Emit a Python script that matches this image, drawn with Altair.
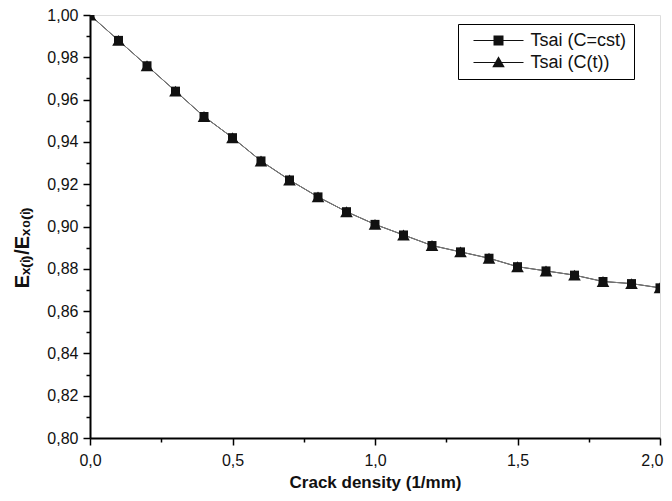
import altair as alt
import pandas as pd

# ---- data ----
density = [0.0, 0.1, 0.2, 0.3, 0.4, 0.5, 0.6, 0.7, 0.8, 0.9, 1.0,
           1.1, 1.2, 1.3, 1.4, 1.5, 1.6, 1.7, 1.8, 1.9, 2.0]
tsai_cst = [1.000, 0.988, 0.976, 0.964, 0.952, 0.942, 0.931, 0.922, 0.914, 0.907, 0.901,
            0.896, 0.891, 0.888, 0.885, 0.881, 0.879, 0.877, 0.874, 0.873, 0.871]
tsai_ct = [1.000, 0.988, 0.976, 0.964, 0.952, 0.942, 0.931, 0.922, 0.914, 0.907, 0.901,
           0.896, 0.891, 0.888, 0.885, 0.881, 0.879, 0.877, 0.874, 0.873, 0.871]
series_names = ["Tsai (C=cst)", "Tsai (C(t))"]
x_tick_values = [0.0, 0.25, 0.5, 0.75, 1.0, 1.25, 1.5, 1.75, 2.0]
y_tick_values = [round(0.80 + 0.01 * i, 2) for i in range(21)]

df = pd.DataFrame({
    "x": density + density,
    "y": tsai_cst + tsai_ct,
    "series": [series_names[0]] * len(density) + [series_names[1]] * len(density),
})

FONT = "Liberation Sans"

x_major = "abs(datum.value*2 - round(datum.value*2)) < 0.0001"
y_major = "abs(datum.value*50 - round(datum.value*50)) < 0.0001"
x_last = "datum.value > 1.99"

x_axis = alt.Axis(
    values=x_tick_values,
    labelExpr=f"{x_major} ? replace(format(datum.value, '.1f'), '.', ',') : ''",
    tickSize={"condition": {"test": x_major, "value": 7}, "value": 4},
    labelAlign={"condition": {"test": x_last, "value": "right"}, "value": "center"},
    labelOffset={"condition": {"test": x_last, "value": 3}, "value": 0},
    title="Crack density (1/mm)",
    grid=False, domainColor="black", domainWidth=2, tickColor="black", tickWidth=1.5,
    labelFont=FONT, labelFontSize=16, labelColor="#111111", labelPadding=7,
    labelFlush=False, labelOverlap=False,
    titleFont=FONT, titleFontSize=17, titleFontWeight="bold", titleColor="#111111",
    titlePadding=6,
)
y_axis = alt.Axis(
    values=y_tick_values,
    labelExpr=f"{y_major} ? replace(format(datum.value, '.2f'), '.', ',') : ''",
    tickSize={"condition": {"test": y_major, "value": 7}, "value": 4},
    title="Eₓ₍ᵢ₎/Eₓ₀₍ᵢ₎",
    grid=False, domainColor="black", domainWidth=2, tickColor="black", tickWidth=1.5,
    labelFont=FONT, labelFontSize=16, labelColor="#111111", labelPadding=5,
    labelFlush=False, labelOverlap=False,
    titleFont=FONT, titleFontSize=20, titleFontWeight="bold", titleColor="#111111",
    titleX=-68, titleY=232, titleAlign="center", titleBaseline="middle", titleAngle=270,
)

xscale = alt.Scale(domain=[0, 2], nice=False)
yscale = alt.Scale(domain=[0.8, 1.0], nice=False, zero=False)

base = alt.Chart(df).encode(
    x=alt.X("x:Q", scale=xscale, axis=x_axis),
    y=alt.Y("y:Q", scale=yscale, axis=y_axis),
)

lines = base.mark_line(strokeWidth=1, clip=True).encode(
    color=alt.Color("series:N",
                    scale=alt.Scale(domain=series_names, range=["#000000", "#808080"]),
                    legend=None),
    detail="series:N",
)

points = base.mark_point(filled=True, opacity=1, clip=True, color="#111111").encode(
    shape=alt.Shape("series:N",
                    scale=alt.Scale(domain=series_names, range=["square", "triangle-up"]),
                    legend=None),
    size=alt.Size("series:N",
                  scale=alt.Scale(domain=series_names, range=[81, 160]),
                  legend=None),
)

# legend symbols: a thin bar (the line) plus the marker, all filled
sq_path = "M-5,-0.1L5,-0.1L5,0.1L-5,0.1ZM-1,-1L1,-1L1,1L-1,1Z"
tri_path = "M-5,-0.1L5,-0.1L5,0.1L-5,0.1ZM0,-1.25L1.25,0.95L-1.25,0.95Z"

legend_layer = base.mark_point(
    filled=True, size=100, opacity=1, fill="#111111", stroke="#111111", strokeWidth=0.3
).encode(
    shape=alt.Shape("series:N",
                    scale=alt.Scale(domain=series_names, range=[sq_path, tri_path]),
                    legend=alt.Legend(
                        title=None, orient="none", legendX=368, legendY=9,
                        strokeColor="black", fillColor="white", padding=7.5,
                        symbolOffset=24, labelOffset=23, rowPadding=4,
                        symbolSize=100, symbolFillColor="#111111",
                        symbolStrokeColor="#111111", symbolStrokeWidth=0.3,
                        labelFont=FONT, labelFontSize=18, labelColor="#111111",
                        labelLimit=400,
                    )),
).transform_filter("false")

chart = alt.layer(lines, points, legend_layer).resolve_scale(
    shape="independent", size="independent"
).properties(
    width=570, height=423,
    autosize=alt.AutoSizeParams(type="none"),
    padding={"left": 82, "top": 7, "right": 4, "bottom": 55},
).configure_view(stroke="black", strokeWidth=1.5).configure(background="white")

chart.save("out.html", embed_options={"renderer": "svg", "actions": False})
